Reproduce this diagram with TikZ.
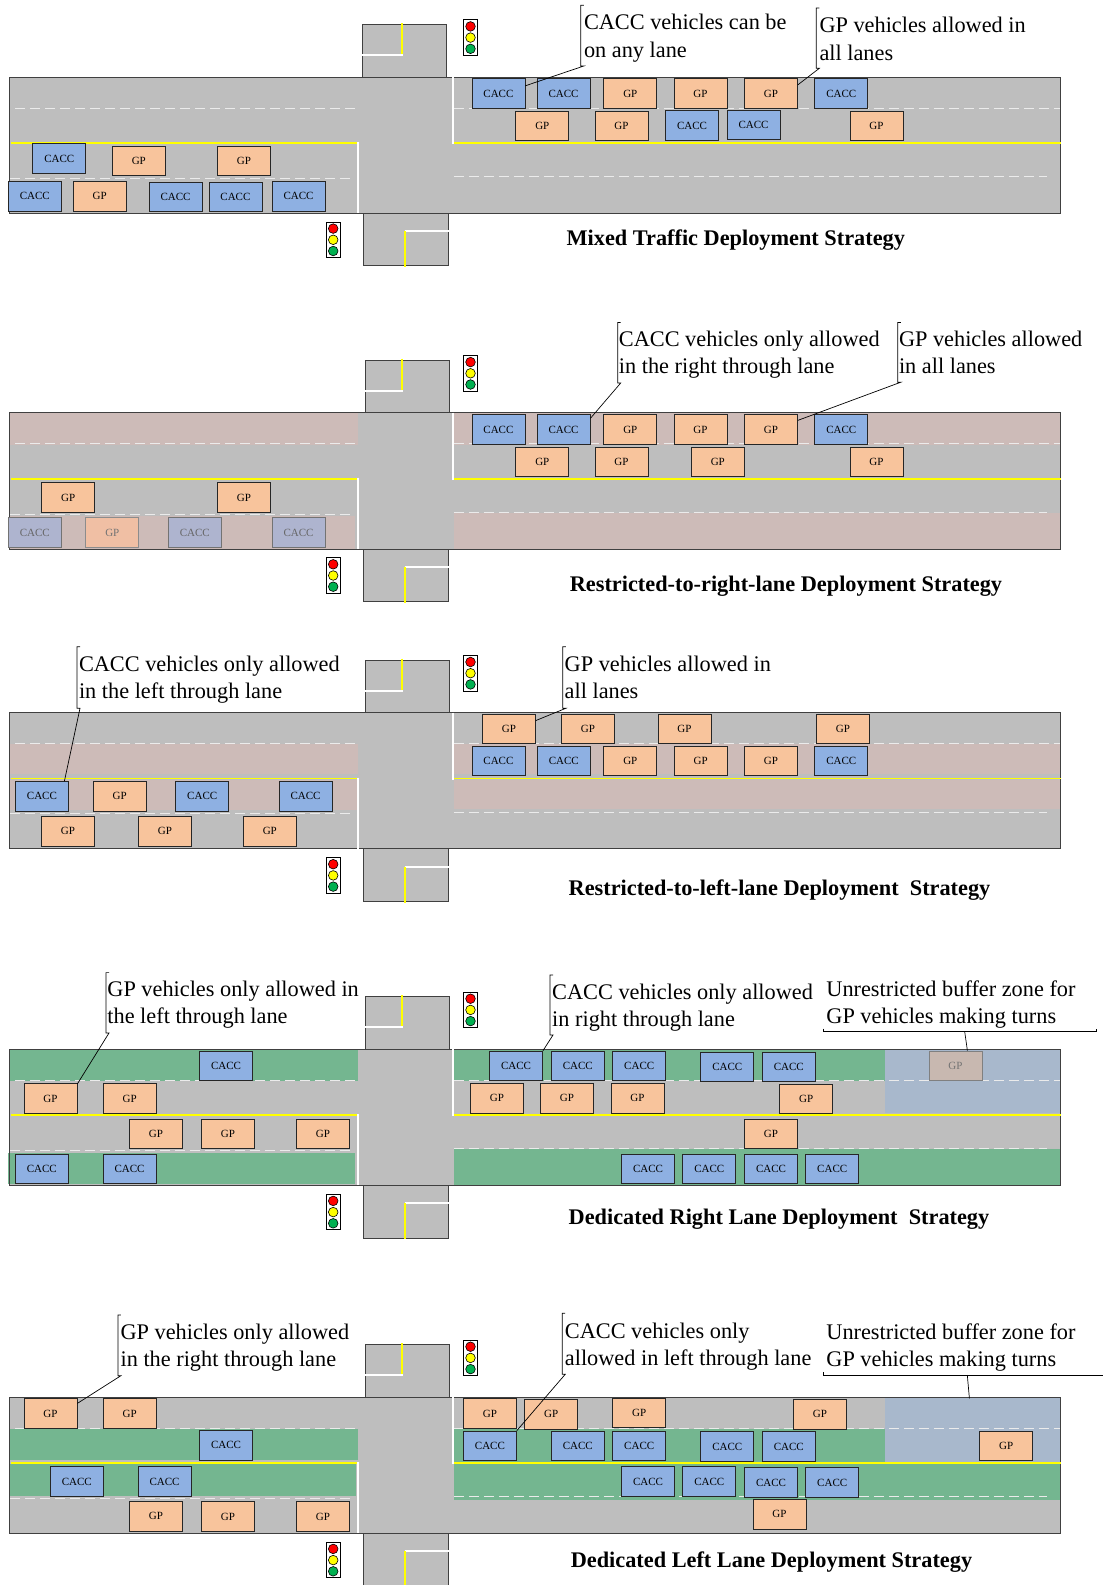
\documentclass[tikz,border=0pt]{standalone}
\usepackage{fontspec}
\setmainfont{Liberation Serif}
\usetikzlibrary{calc}
\definecolor{roadgray}{HTML}{BEBEBE}
\definecolor{caccblue}{HTML}{8EB0E2}
\definecolor{gporange}{HTML}{F8C49C}
\definecolor{pinkband}{HTML}{CDBBB8}
\definecolor{greenband}{HTML}{74B690}
\definecolor{bufferblue}{HTML}{A8B8CC}
\definecolor{fadecacc}{HTML}{AEB4CF}
\definecolor{fadegp}{HTML}{F0BFA4}
\definecolor{fadegpb}{HTML}{C8B8B0}
\definecolor{sigred}{HTML}{FF0000}
\definecolor{sigyellow}{HTML}{FFFF00}
\definecolor{siggreen}{HTML}{00B050}
\tikzset{
  carbox/.style={draw=black!85,line width=0.8pt,minimum width=53pt,minimum height=29.5pt,inner sep=0pt,yshift=-0.5pt,font=\fontsize{11}{13}\selectfont},
  cacc/.style={carbox,fill=caccblue},
  gpv/.style={carbox,fill=gporange},
  caccfade/.style={carbox,fill=fadecacc,draw=black!55,text=black!60},
  gpfade/.style={carbox,fill=fadegp,draw=black!45,text=black!55},
  gpfadeb/.style={carbox,fill=fadegpb,draw=black!50,text=black!55},
  note/.style={anchor=west,align=left,inner sep=0pt,yshift=-1.8pt,font=\fontsize{22.3}{27.3}\selectfont},
  titlelabel/.style={inner sep=0pt,yshift=-2pt,font=\fontsize{22.3}{26}\selectfont\bfseries},
  leader/.style={draw=black,line width=0.7pt},
  stripe/.style={draw=white!92!black,line width=1pt,dash pattern=on 9.5pt off 5.5pt},
  yellowline/.style={draw=sigyellow,line width=1.7pt},
  whiteline/.style={draw=white,line width=2pt},
  roadedge/.style={draw=black!75,line width=0.9pt},
}
\newcommand{\twolines}[2]{\strut #1\\\strut #2}
\newcommand{\roadfill}[2]{%
  \begin{scope}[shift={(0,#1)}]
    \fill[roadgray] (9.3,0) rectangle (1060.7,136.3);
    \filldraw[fill=roadgray,roadedge] (#2,0) rectangle (#2+84.3,-52.6);
    \filldraw[fill=roadgray,roadedge] (363,136.3) rectangle (448,188.8);
  \end{scope}}
\newcommand{\roadmarks}[2]{%
  \begin{scope}[shift={(0,#1)}]
    \draw[roadedge] (9.3,0) rectangle (1060.7,136.3);
    \draw[stripe] (15,31) -- (358,31);
    \draw[stripe] (454,31) -- (1060,31);
    \draw[stripe] (10,101.3) -- (353,101.3);
    \draw[stripe] (454,99.6) -- (1047,99.6);
    \draw[yellowline] (10.5,66) -- (358,66);
    \draw[yellowline] (453,66) -- (1060.5,66);
    \draw[whiteline] (358,65) -- (358,136);
    \draw[whiteline] (453,0) -- (453,67);
    \draw[yellowline,line width=1.3pt] (402,-54) -- (402,-22);
    \draw[whiteline] (#2-1,-22) -- (402.7,-22);
    \draw[whiteline] (405,154) -- (448.5,154);
    \draw[yellowline,line width=1.3pt] (405,154) -- (405,190);
    \tlight{470.5}{-57.2}
    \tlight{333.2}{145}
  \end{scope}}
\newcommand{\tlight}[2]{%
  \draw[black,fill=white,line width=0.8pt] (#1-7,#2) rectangle (#1+7,#2+35.5);
  \filldraw[draw=black,fill=sigred,line width=0.6pt] (#1,#2+6.6) circle (4.8pt);
  \filldraw[draw=black,fill=sigyellow,line width=0.6pt] (#1,#2+17.8) circle (4.8pt);
  \filldraw[draw=black,fill=siggreen,line width=0.6pt] (#1,#2+29) circle (4.8pt);}
\newcommand{\caccar}[3]{\node[cacc] (#1) at (#2,#3) {CACC};}
\newcommand{\gpcar}[3]{\node[gpv] (#1) at (#2,#3) {GP};}
\newcommand{\bracketlead}[5]{%
  \coordinate (#1) at (#2+3,#4);
  \draw[leader] (#2+3,#3) -- (#2,#3) -- (#2,#4) -- (#1) -- #5;}
\newcommand{\bufferlead}[3]{%
  \coordinate (#1) at (#3,#2);
  \draw[leader] (823.5,#2-3) -- (823.5,#2) -- (#3,#2) -- (#3,#2-3);}
\begin{document}
\begin{tikzpicture}[x=1pt,y=-1pt]
\useasboundingbox (0,0) rectangle (1103,1585);
\fill[white] (0,0) rectangle (1103,1585);

%% ---------- Panel A ----------
\roadfill{77}{362}
\roadmarks{77}{362}
\caccar{a1}{59.3}{158}
\gpcar{a2}{138.8}{160.3}
\gpcar{a3}{244}{160.3}
\caccar{a4}{34.8}{195.7}
\gpcar{a5}{99.6}{195.7}
\caccar{a6}{175.5}{196.5}
\caccar{a7}{235.4}{196.5}
\caccar{a8}{298.6}{195.7}
\caccar{a9}{498.4}{93}
\caccar{a10}{563.5}{93}
\gpcar{a11}{630.3}{93}
\gpcar{a12}{700.5}{93}
\gpcar{a13}{771}{93}
\caccar{a14}{841.3}{93}
\gpcar{a15}{542.3}{125.3}
\gpcar{a16}{621.4}{125.3}
\caccar{a17}{692}{125}
\caccar{a18}{753.5}{124.3}
\gpcar{a19}{876.4}{125.3}
\node[note] (an1) at (583.8,36.3) {\twolines{CACC vehicles can be}{on any lane}};
\node[note] (an2) at (819.3,39.2) {\twolines{GP vehicles allowed in}{all lanes}};
\bracketlead{ab1}{580.8}{5.3}{66}{($(a9.east)+(0,-7.7)$)}
\bracketlead{ab2}{816.3}{8}{68.3}{($(a13.east)+(0,-8.7)$)}
\node[titlelabel] (at) at (735.8,238.3) {Mixed Traffic Deployment Strategy};

%% ---------- Panel B ----------
\roadfill{412.7}{365}
\fill[pinkband] (9.3,413) rectangle (358,444.5);
\fill[pinkband] (9.3,516) rectangle (355,549);
\fill[pinkband] (454,413) rectangle (1060.7,444.5);
\fill[pinkband] (454,512.7) rectangle (1060.7,549);
\roadmarks{412.7}{365}
\gpcar{b1}{68.2}{497}
\gpcar{b2}{244}{497}
\node[caccfade] (b3) at (34.8,532) {CACC};
\node[gpfade] (b4) at (112.3,532) {GP};
\node[caccfade] (b5) at (194.8,532) {CACC};
\node[caccfade] (b6) at (298.6,532) {CACC};
\caccar{b7}{498.4}{429}
\caccar{b8}{563.5}{429}
\gpcar{b9}{630.3}{429}
\gpcar{b10}{700.5}{429}
\gpcar{b11}{771}{429}
\caccar{b12}{841.3}{429}
\gpcar{b13}{542.3}{461.3}
\gpcar{b14}{621.4}{461.3}
\gpcar{b15}{717.8}{461.3}
\gpcar{b16}{876.4}{461.3}
\node[note] (bn1) at (618.7,352.8) {\twolines{CACC vehicles only allowed}{in the right through lane}};
\node[note] (bn2) at (898.8,352.8) {\twolines{GP vehicles allowed}{in all lanes}};
\bracketlead{bb1}{617.7}{322.5}{383}{($(b8.north east)+(0,4)$)}
\bracketlead{bb2}{897.8}{322.5}{382.2}{($(b11.north east)+(0,6)$)}
\node[titlelabel] (bt) at (786,584.4) {Restricted-to-right-lane Deployment Strategy};

%% ---------- Panel C ----------
\roadfill{712.6}{365}
\fill[pinkband] (9.3,744) rectangle (358,774);
\fill[pinkband] (9.3,780) rectangle (358,810);
\fill[pinkband] (454,744) rectangle (1060.7,774);
\fill[pinkband] (454,780) rectangle (1060.7,809);
\roadmarks{712.6}{365}
\caccar{c1}{41.9}{795.8}
\gpcar{c2}{119.6}{795.8}
\caccar{c3}{202.2}{795.8}
\caccar{c4}{305.6}{795.8}
\gpcar{c5}{67.9}{830.8}
\gpcar{c6}{165}{830.8}
\gpcar{c7}{269.8}{830.8}
\gpcar{c8}{508.9}{728.2}
\gpcar{c9}{588}{728.2}
\gpcar{c10}{684.4}{728.2}
\gpcar{c11}{843}{728.2}
\caccar{c12}{498.4}{760.3}
\caccar{c13}{563.8}{760.3}
\gpcar{c14}{630.3}{760.3}
\gpcar{c15}{700.6}{760.3}
\gpcar{c16}{771}{760.3}
\caccar{c17}{841.3}{760.3}
\node[note] (cn1) at (78.8,677.6) {\twolines{CACC vehicles only allowed}{in the left through lane}};
\node[note] (cn2) at (564.5,677.6) {\twolines{GP vehicles allowed in}{all lanes}};
\bracketlead{cb1}{77}{646.7}{708.3}{($(c1.north east)+(-4.4,0)$)}
\bracketlead{cb2}{562.8}{646.7}{708.3}{($(c8.north east)+(0,7)$)}
\node[titlelabel] (ct) at (779.5,887.7) {Restricted-to-left-lane Deployment\ \ Strategy};

%% ---------- Panel D ----------
\roadfill{1049.3}{365}
\fill[greenband] (9.3,1050) rectangle (358,1081);
\fill[greenband] (8,1152.7) rectangle (355,1184);
\fill[greenband] (454,1049.3) rectangle (885,1080.7);
\fill[bufferblue] (885,1049.3) rectangle (1060.7,1113);
\fill[greenband] (454,1149.3) rectangle (1060.7,1185.6);
\roadmarks{1049.3}{365}
\caccar{d1}{226}{1065.3}
\gpcar{d2}{50.5}{1098}
\gpcar{d3}{129.6}{1098}
\gpcar{d4}{156}{1133.3}
\gpcar{d5}{228}{1133.3}
\gpcar{d6}{322.9}{1133.3}
\caccar{d7}{41.8}{1168.3}
\caccar{d8}{129.6}{1168.3}
\caccar{d9}{516.1}{1065.3}
\caccar{d10}{577.8}{1065.3}
\caccar{d11}{639.2}{1065.3}
\caccar{d12}{727.3}{1066.2}
\caccar{d13}{788.8}{1066.2}
\node[gpfadeb] (d14) at (955.4,1065.3) {GP};
\gpcar{d15}{496.9}{1097.7}
\gpcar{d16}{567}{1097.7}
\gpcar{d17}{637.5}{1097.7}
\gpcar{d18}{806.2}{1098.3}
\gpcar{d19}{771}{1133.3}
\caccar{d20}{648}{1168.2}
\caccar{d21}{709.3}{1168.2}
\caccar{d22}{771}{1168.2}
\caccar{d23}{832.2}{1168.2}
\node[note] (dn1) at (107.2,1002.9) {\twolines{GP vehicles only allowed in}{the left through lane}};
\node[note] (dn2) at (552,1005.6) {\twolines{CACC vehicles only allowed}{in right through lane}};
\node[note] (dn3) at (826.2,1002.9) {\twolines{Unrestricted buffer zone for}{GP vehicles making turns}};
\bracketlead{db1}{106}{972.6}{1033}{($(d2.north east)+(0,0.5)$)}
\bracketlead{db2}{550}{975}{1035}{(d9.north east)}
\bufferlead{db3}{1031.7}{1096.7}
\coordinate (db3a) at (964.7,1031.7);
\draw[leader] (db3a) -- ($(d14.north)+(12,0)$);
\node[titlelabel] (dt) at (779,1217.3) {Dedicated Right Lane Deployment\ \ Strategy};

%% ---------- Panel E ----------
\roadfill{1397.3}{365}
\fill[greenband] (9.3,1428.7) rectangle (358,1460.3);
\fill[greenband] (9.3,1464) rectangle (356,1496);
\fill[greenband] (454,1428.7) rectangle (885,1463);
\fill[bufferblue] (885,1397.3) rectangle (1060.7,1462);
\fill[greenband] (454,1463) rectangle (1060.7,1500);
\roadmarks{1397.3}{365}
\gpcar{e1}{50.5}{1413}
\gpcar{e2}{129.6}{1413}
\caccar{e3}{226}{1444.7}
\caccar{e4}{76.8}{1481}
\caccar{e5}{164.5}{1481}
\gpcar{e6}{156}{1515.7}
\gpcar{e7}{228}{1516}
\gpcar{e8}{322.9}{1516}
\gpcar{e9}{489.9}{1413}
\gpcar{e10}{551.2}{1413.7}
\gpcar{e11}{639.2}{1412.3}
\gpcar{e12}{820}{1413.7}
\caccar{e13}{489.9}{1445.3}
\caccar{e14}{577.8}{1445.3}
\caccar{e15}{639.2}{1445.3}
\caccar{e16}{727.3}{1446}
\caccar{e17}{788.8}{1446}
\gpcar{e18}{1006.2}{1445.3}
\caccar{e19}{648}{1481}
\caccar{e20}{709.3}{1481}
\caccar{e21}{771}{1482}
\caccar{e22}{832.2}{1482}
\gpcar{e23}{779.5}{1513.8}
\node[note] (en1) at (120.4,1345.7) {\twolines{GP vehicles only allowed}{in the right through lane}};
\node[note] (en2) at (564.7,1344.9) {\twolines{CACC vehicles only}{allowed in left through lane}};
\node[note] (en3) at (826.2,1345.7) {\twolines{Unrestricted buffer zone for}{GP vehicles making turns}};
\bracketlead{eb1}{117.9}{1315}{1375.7}{($(e1.north east)+(0,5)$)}
\bracketlead{eb2}{562.2}{1313.3}{1374.3}{(e13.north east)}
\bufferlead{eb3}{1375}{1103}
\coordinate (eb3a) at (967.3,1375);
\coordinate (eb3b) at (969.4,1398.3);
\draw[leader] (eb3a) -- (eb3b);
\node[titlelabel] (et) at (771.5,1560) {Dedicated Left Lane Deployment Strategy};
\end{tikzpicture}
\end{document}
